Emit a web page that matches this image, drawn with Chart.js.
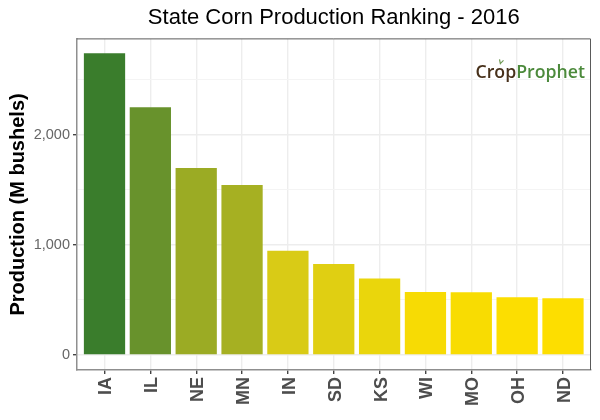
<!DOCTYPE html>
<html lang="en">
<head>
    <meta charset="UTF-8">
    <title>State Corn Production Ranking - 2016</title>
    <script src="https://cdn.jsdelivr.net/npm/chart.js"></script>
    <style>
        body { margin: 0; background: #fff; }
        canvas { display: block; }
    </style>
</head>
<body>
    <canvas id="cornChart" width="600" height="420"></canvas>
    <script>
        const states = ['IA', 'IL', 'NE', 'MN', 'IN', 'SD', 'KS', 'WI', 'MO', 'OH', 'ND'];
        const production = [2741, 2252, 1700, 1545, 947, 826, 696, 572, 570, 524, 515];
        const barColors = ['#3a7d2c', '#68922c', '#9bab24', '#a6b022', '#d9cb16', '#e0cf12', '#ead60c', '#f7db04', '#f8dc02', '#fcde01', '#fdde00'];
        const yTicks = [0, 500, 1000, 1500, 2000, 2500];
        const font = '"Liberation Sans", Arial, sans-serif';

        // top and right edge of the panel, the left and bottom come from the axes
        const panelBorder = {
            id: 'panelBorder',
            afterDraw(chart) {
                const { ctx, chartArea: a } = chart;
                ctx.save();
                ctx.strokeStyle = '#5a5a5a';
                ctx.lineWidth = 1;
                ctx.beginPath();
                ctx.moveTo(a.left, a.top);
                ctx.lineTo(a.right, a.top);
                ctx.lineTo(a.right, a.bottom);
                ctx.stroke();
                ctx.restore();
            }
        };

        const logo = {
            id: 'logo',
            afterDraw(chart) {
                const { ctx, chartArea: a } = chart;
                const x = a.right - 115;
                const y = a.top + 39.5;
                ctx.save();
                ctx.font = '600 17.7px "Open Sans", sans-serif';
                ctx.textBaseline = 'alphabetic';
                ctx.fillStyle = '#47301a';
                ctx.fillText('Crop', x, y);
                const w = ctx.measureText('Crop').width;
                ctx.fillStyle = '#4c8a3c';
                ctx.fillText('Prophet', x + w, y);
                // sprout above the o
                ctx.strokeStyle = '#6f9a55';
                ctx.lineWidth = 1.2;
                ctx.beginPath();
                ctx.moveTo(x + 25, y - 14);
                ctx.lineTo(x + 24, y - 19);
                ctx.moveTo(x + 25, y - 15);
                ctx.lineTo(x + 28, y - 18);
                ctx.stroke();
                ctx.restore();
            }
        };

        new Chart(document.getElementById('cornChart').getContext('2d'), {
            type: 'bar',
            data: {
                datasets: [{
                    data: production.map((v, i) => ({ x: i + 1, y: v })),
                    backgroundColor: barColors,
                    barPercentage: 0.9,
                    categoryPercentage: 1
                }]
            },
            options: {
                responsive: false,
                animation: false,
                layout: { padding: { right: 9.5 } },
                plugins: {
                    legend: { display: false },
                    tooltip: { enabled: false },
                    title: {
                        display: true,
                        fullSize: false,
                        text: 'State Corn Production Ranking - 2016',
                        color: '#000',
                        font: { family: font, size: 22, weight: 'normal' },
                        padding: { top: 5, bottom: 7.5 }
                    }
                },
                scales: {
                    x: {
                        type: 'linear',
                        offset: false,
                        min: 0.4,
                        max: 11.6,
                        afterBuildTicks: scale => { scale.ticks = states.map((s, i) => ({ value: i + 1 })); },
                        afterFit: scale => { scale.height = 50; },
                        grid: { offset: false, color: '#ededed', tickColor: '#444', tickLength: 4, lineWidth: 1.4 },
                        border: { color: '#8f8f8f', width: 1.5 },
                        ticks: {
                            autoSkip: false,
                            minRotation: 90,
                            maxRotation: 90,
                            padding: 3,
                            labelOffset: 2,
                            color: '#4d4d4d',
                            font: { family: font, size: 18, weight: 'bold' },
                            callback: v => states[v - 1]
                        }
                    },
                    y: {
                        min: -136,
                        max: 2872,
                        afterBuildTicks: scale => { scale.ticks = yTicks.map(v => ({ value: v })); },
                        afterFit: scale => { scale.width = 77; },
                        title: {
                            display: true,
                            text: 'Production (M bushels)',
                            color: '#000',
                            font: { family: font, size: 20, weight: 'bold' },
                            padding: { top: 6, bottom: 0 }
                        },
                        grid: {
                            color: c => (c.tick.value % 1000 === 0 ? '#ededed' : '#f4f4f4'),
                            lineWidth: c => (c.tick.value % 1000 === 0 ? 1.4 : 1),
                            tickColor: c => (c.tick.value % 1000 === 0 ? '#444' : 'transparent'),
                            tickLength: 4
                        },
                        border: { color: '#8f8f8f', width: 1.5 },
                        ticks: {
                            padding: 3,
                            color: '#666',
                            font: { family: font, size: 14.5 },
                            callback: v => (v % 1000 === 0 ? v.toLocaleString('en-US') : '')
                        }
                    }
                }
            },
            plugins: [panelBorder, logo]
        });
    </script>
</body>
</html>
